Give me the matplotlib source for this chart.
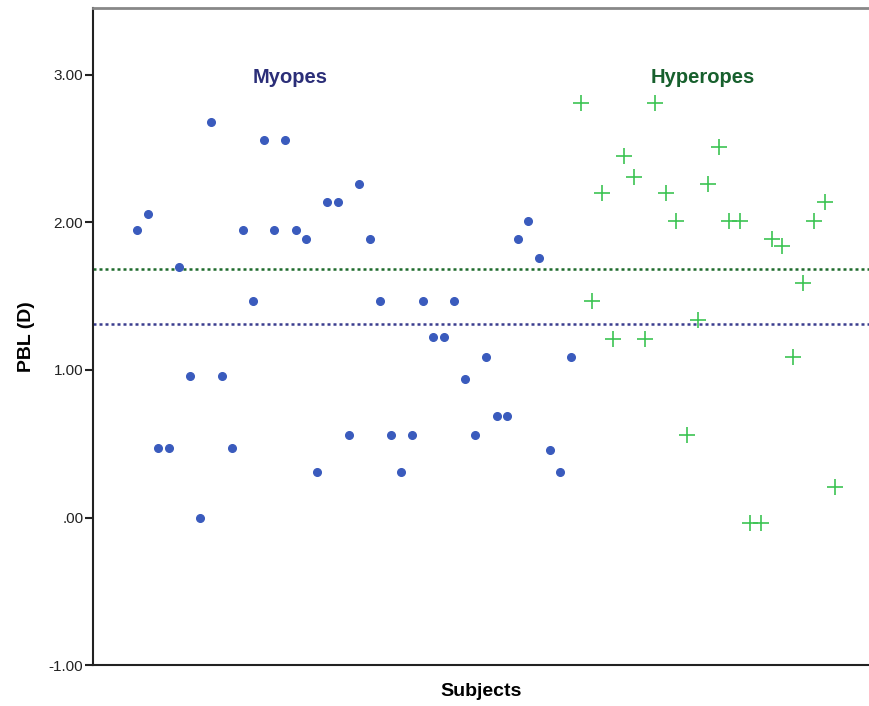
import numpy as np
import matplotlib
matplotlib.use('Agg')
import matplotlib.pyplot as plt

plt.rcParams['font.family'] = ['Liberation Sans', 'DejaVu Sans']

# PBL (D) per subject, myopes first then hyperopes
myopes = [1.95, 2.06, 0.47, 0.47, 1.70, 0.96, 0.00, 2.68, 0.96, 0.47,
          1.95, 1.47, 2.56, 1.95, 2.56, 1.95, 1.89, 0.31, 2.14, 2.14,
          0.56, 2.26, 1.89, 1.47, 0.56, 0.31, 0.56, 1.47, 1.22, 1.22,
          1.47, 0.94, 0.56, 1.09, 0.69, 0.69, 1.89, 2.01, 1.76, 0.46,
          0.31, 1.09]
hyperopes = [2.81, 1.47, 2.20, 1.21, 2.45, 2.31, 1.21, 2.81, 2.20, 2.01,
             0.56, 1.34, 2.26, 2.51, 2.01, 2.01, -0.04, -0.04, 1.89, 1.84,
             1.09, 1.59, 2.01, 2.14, 0.21]
y_ticks = [-1.0, 0.0, 1.0, 2.0, 3.0]
y_ticklabels = ['-1.00', '.00', '1.00', '2.00', '3.00']

x_myo = np.arange(1, len(myopes) + 1)
x_hyp = np.arange(len(myopes) + 1, len(myopes) + len(hyperopes) + 1)

fig = plt.figure(figsize=(8.7, 7.06), dpi=100)
ax = fig.add_axes([0.107, 0.058, 0.893, 0.93])

ax.axhline(np.mean(hyperopes), color='#1f6b2c', lw=1.8, ls=(0, (1.2, 1.2)), zorder=1)
ax.axhline(np.mean(myopes), color='#3b3d8f', lw=1.8, ls=(0, (1.2, 1.2)), zorder=1)

ax.plot(x_myo, myopes, 'o', color='#3a5bbd', ms=5.5, mec='#3a5bbd', zorder=3)
ax.plot(x_hyp, hyperopes, '+', color='#3cc453', ms=11, mew=1.2, zorder=3)

ax.text(15.5, 2.98, 'Myopes', color='#2b2e78', fontsize=14.5, fontweight='bold',
        ha='center', va='center')
ax.text(54.5, 2.98, 'Hyperopes', color='#17602d', fontsize=14.5, fontweight='bold',
        ha='center', va='center')

ax.set_xlim(-3.15, 70.3)
ax.set_ylim(-1.0, 3.45)
ax.set_xticks([])
ax.set_yticks(y_ticks)
ax.set_yticklabels(y_ticklabels)
ax.tick_params(axis='y', labelsize=11, length=6, width=1.5, color='#222222',
               labelcolor='#222222', pad=1)

ax.spines['right'].set_visible(False)
ax.spines['top'].set_color('#888888')
ax.spines['top'].set_linewidth(2)
for s in ('left', 'bottom'):
    ax.spines[s].set_color('#222222')
    ax.spines[s].set_linewidth(1.5)

ax.set_xlabel('Subjects', fontsize=14, fontweight='bold', labelpad=13)
ax.set_ylabel('PBL (D)', fontsize=14, fontweight='bold', labelpad=10)

fig.savefig('out.png', dpi=100)
